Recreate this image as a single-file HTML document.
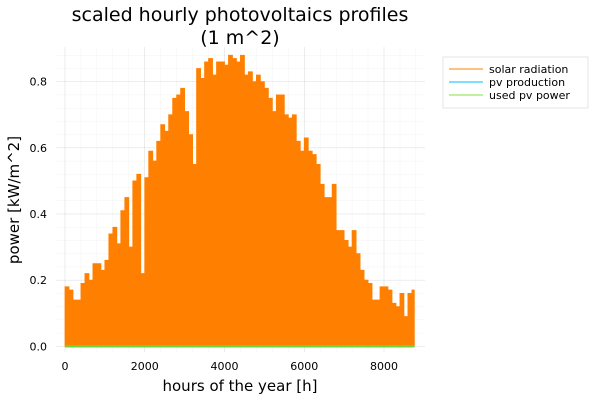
<!DOCTYPE html>
<html><head><meta charset="utf-8"><style>
body{margin:0;background:#fff;}
svg{display:block;font-family:"DejaVu Sans","Liberation Sans",sans-serif;}
</style></head><body>
<svg id="chart" width="600" height="400" viewBox="0 0 600 400">
<text x="240" y="21" font-size="19" text-anchor="middle" fill="#000">scaled hourly photovoltaics profiles</text>
<text x="240" y="44" font-size="19" text-anchor="middle" fill="#000">(1 m^2)</text>
<g id="grid"></g>
<g id="marks"></g>
<g id="axes"></g>
<text x="240" y="391" font-size="15" text-anchor="middle">hours of the year [h]</text>
<text transform="translate(19,200) rotate(-90)" font-size="15" text-anchor="middle">power [kW/m^2]</text>
<g>
<rect x="443" y="57" width="145" height="51" fill="#fff" stroke="#e6e6e6"/>
<line x1="449" y1="69" x2="483" y2="69" stroke="#ff8000" stroke-width="1"/>
<text x="489" y="73" font-size="11">solar radiation</text>
<line x1="449" y1="82" x2="483" y2="82" stroke="#00bfff" stroke-width="1"/>
<text x="489" y="86" font-size="11">pv production</text>
<line x1="449" y1="95" x2="483" y2="95" stroke="#80e040" stroke-width="1"/>
<text x="489" y="99" font-size="11">used pv power</text>
</g>
</svg>
<script>
const binHours = [0,100,200,300,400,500,600,700,800,900,1000,1100,1200,1300,1400,1500,1600,1700,1800,1900,2000,2100,2200,2300,2400,2500,2600,2700,2800,2900,3000,3100,3200,3300,3400,3500,3600,3700,3800,3900,4000,4100,4200,4300,4400,4500,4600,4700,4800,4900,5000,5100,5200,5300,5400,5500,5600,5700,5800,5900,6000,6100,6200,6300,6400,6500,6600,6700,6800,6900,7000,7100,7200,7300,7400,7500,7600,7700,7800,7900,8000,8100,8200,8300,8400,8500,8600,8700];
const solarPeak = [0.18,0.17,0.14,0.14,0.19,0.22,0.2,0.25,0.25,0.23,0.26,0.34,0.36,0.31,0.41,0.45,0.3,0.5,0.52,0.22,0.51,0.59,0.56,0.62,0.67,0.65,0.7,0.75,0.76,0.78,0.71,0.64,0.55,0.84,0.81,0.86,0.87,0.82,0.86,0.86,0.85,0.88,0.87,0.86,0.88,0.82,0.83,0.8,0.82,0.8,0.78,0.75,0.71,0.76,0.76,0.7,0.69,0.7,0.62,0.59,0.63,0.59,0.58,0.55,0.49,0.45,0.45,0.49,0.35,0.35,0.32,0.3,0.35,0.28,0.23,0.2,0.19,0.14,0.14,0.18,0.18,0.17,0.13,0.12,0.16,0.09,0.16,0.17];
const pvProduction = [0,0];
const usedPv = [0,0];
const xTicks = [0,2000,4000,6000,8000];
const yTicks = [0.0,0.2,0.4,0.6,0.8];
const yTickLabels = ["0.0","0.2","0.4","0.6","0.8"];
const hourEnd = 8760;

const NS="http://www.w3.org/2000/svg";
const L=56,R=425,T=47,B=352;
const xs=h=>65+h*(319/8000);
const ys=v=>346.3-v*(264.6/0.8);
function mk(tag,attrs,parent){const e=document.createElementNS(NS,tag);for(const k in attrs)e.setAttribute(k,attrs[k]);parent.appendChild(e);return e;}
const grid=document.getElementById('grid'),marks=document.getElementById('marks'),axes=document.getElementById('axes');
for(let v=0;v<=0.9;v+=0.04){const g=mk('line',{x1:L,x2:R,y1:ys(v),y2:ys(v),stroke:'#000','stroke-opacity':0.05,'stroke-width':0.5},grid);

}
for(let h=0;h<=9000;h+=400){const g=mk('line',{x1:xs(h),x2:xs(h),y1:T,y2:B,stroke:'#000','stroke-opacity':0.05,'stroke-width':0.5},grid);

}
yTicks.forEach((v,i)=>{const g=mk('line',{x1:L,x2:R,y1:ys(v),y2:ys(v),stroke:'#000','stroke-opacity':0.1,'stroke-width':0.5},grid);


const t=mk('text',{x:47,y:ys(v)+4,'font-size':11,'text-anchor':'end'},axes);t.textContent=yTickLabels[i];

});
xTicks.forEach(h=>{const g=mk('line',{x1:xs(h),x2:xs(h),y1:T,y2:B,stroke:'#000','stroke-opacity':0.1,'stroke-width':0.5},grid);


const t=mk('text',{x:xs(h),y:370,'font-size':11,'text-anchor':'middle'},axes);t.textContent=String(h);

});
let d='M'+xs(0)+','+ys(0);
binHours.forEach((h,i)=>{const h2=i+1<binHours.length?binHours[i+1]:hourEnd;d+=' L'+xs(h)+','+ys(solarPeak[i])+' L'+xs(h2)+','+ys(solarPeak[i]);});
d+=' L'+xs(hourEnd)+','+ys(0)+' Z';
const area=mk('path',{d:d,fill:'#ff8000',stroke:'#ff8000','stroke-width':0.8},marks);


const pv=mk('line',{x1:xs(0),x2:xs(hourEnd),y1:ys(pvProduction[0]),y2:ys(pvProduction[1]),stroke:'#00bfff','stroke-width':2},marks);


const up=mk('line',{x1:xs(0),x2:xs(hourEnd),y1:ys(usedPv[0]),y2:ys(usedPv[1]),stroke:'#6fd33c','stroke-width':2.5},marks);


</script>
</body></html>
